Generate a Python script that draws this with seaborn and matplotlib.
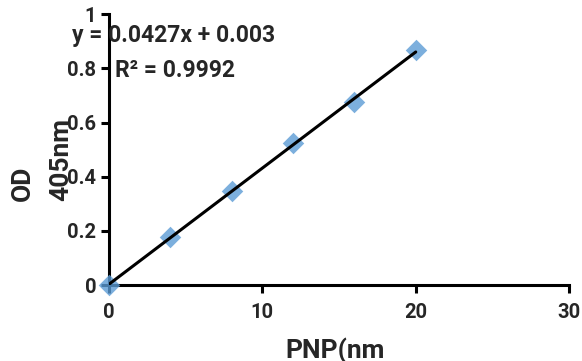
import matplotlib
matplotlib.use("Agg")
import matplotlib.pyplot as plt
import seaborn as sns
import pandas as pd

pnp = [0, 4, 8, 12, 16, 20]
od405 = [0.0, 0.177, 0.347, 0.526, 0.674, 0.866]
x_ticks = [0, 10, 20, 30]
y_ticks = [0, 0.2, 0.4, 0.6, 0.8, 1]
y_tick_labels = ["0", "0.2", "0.4", "0.6", "0.8", "1"]
equation = "y = 0.0427x + 0.003"
r_squared = "R² = 0.9992"

df = pd.DataFrame({"PNP": pnp, "OD": od405})

sns.set_style("white")
plt.rcParams["font.family"] = ["Roboto", "DejaVu Sans"]
plt.rcParams["font.weight"] = "bold"

fig = plt.figure(figsize=(5.82, 3.61), dpi=100)
ax = fig.add_axes([0.187, 0.21, 0.791, 0.751])

sns.regplot(x="PNP", y="OD", data=df, ci=None, ax=ax, marker="D",
            scatter_kws={"s": 120, "color": "#5B9BD5", "zorder": 3, "linewidths": 0},
            line_kws={"color": "black", "linewidth": 2.2, "zorder": 4})

ax.set_xlim(0, 30)
ax.set_ylim(0, 1)
ax.set_xticks(x_ticks)
ax.set_yticks(y_ticks)
ax.set_yticklabels(y_tick_labels)
ax.tick_params(axis="both", bottom=True, left=True, direction="out", length=6,
               width=2.2, color="black", labelsize=14.5, pad=3)
for lbl in ax.get_xticklabels() + ax.get_yticklabels():
    lbl.set_fontweight("bold")
ax.tick_params(axis="x", pad=7)
for s in ["top", "right"]:
    ax.spines[s].set_visible(False)
for s in ["left", "bottom"]:
    ax.spines[s].set_linewidth(2.2)
    ax.spines[s].set_color("black")
for c in ax.collections:
    c.set_clip_on(False)

ax.set_xlabel("")
ax.set_ylabel("")
fig.text(0.576, 0.028, "PNP(nm", fontsize=19, fontweight="bold",
         ha="center", va="center")
fig.text(0.040, 0.493, "OD", rotation=90, fontsize=19, fontweight="bold",
         ha="center", va="center")
fig.text(0.105, 0.557, "405nm", rotation=90, fontsize=19, fontweight="bold",
         ha="center", va="center")

fig.text(0.124, 0.903, equation, fontsize=16.5, fontweight="bold", ha="left", va="center")
fig.text(0.197, 0.806, r_squared, fontsize=16.5, fontweight="bold", ha="left", va="center")

fig.savefig("out.png", dpi=100)
